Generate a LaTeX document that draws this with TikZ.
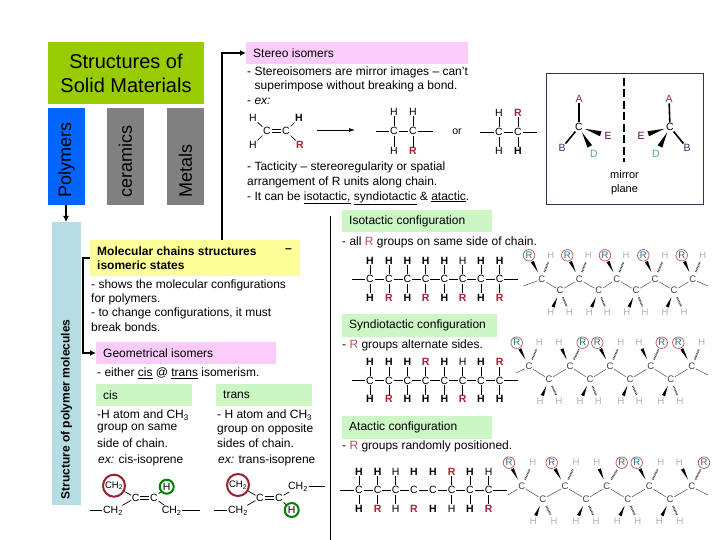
\documentclass[tikz,border=0pt]{standalone}
\usepackage{fontspec}
\setmainfont{Liberation Sans}
\usetikzlibrary{arrows.meta, calc}
\definecolor{titlegreen}{HTML}{99CC00}
\definecolor{polyblue}{HTML}{0066FF}
\definecolor{sidecyan}{HTML}{B7DDE4}
\definecolor{softyellow}{HTML}{FFFF99}
\definecolor{softpink}{HTML}{FBCBFB}
\definecolor{softgreen}{HTML}{CCF7C4}
\definecolor{redatom}{HTML}{AA2233}
\definecolor{tealatom}{HTML}{1F6E8C}
\definecolor{framenavy}{HTML}{33335A}
\tikzset{
  txt/.style={anchor=west, inner sep=0pt, font=\fontsize{12}{14}\selectfont},
  boldtxt/.style={txt, font=\fontsize{12}{14}\selectfont\bfseries},
  upright/.style={rotate=90, anchor=west, inner sep=0pt, font=\fontsize{18}{20}\selectfont},
  arr/.style={-{Latex[length=6pt,width=6pt]}, line width=1.5pt},
  atom/.style={inner sep=0.6pt, font=\fontsize{10.5}{11}\selectfont},
  bh/.style={atom, font=\fontsize{10.5}{11}\selectfont\bfseries},
  rr/.style={atom, text=redatom, font=\fontsize{10.5}{11}\selectfont\bfseries},
  lh/.style={inner sep=0.6pt, text=gray!60, font=\fontsize{9.5}{11}\selectfont, node contents=H},
  rh/.style={circle, draw=redatom!80, line width=0.7pt, inner sep=0.6pt, minimum size=11.5pt, text=tealatom, font=\fontsize{9.5}{11}\selectfont, node contents=R},
  zc/.style={inner sep=0.6pt, text=black!75, font=\fontsize{9.5}{11}\selectfont},
  bond/.style={line width=0.7pt},
  nobond/.style={draw=none},
  zbond/.style={line width=0.5pt, black!70},
  ring/.style={circle, draw=#1, line width=2pt, inner sep=0pt},
}
% solid wedge, narrow at the first node
\newcommand{\wedgebond}[3][1.7pt]{
  \fill ($(#2)!0.3!(#3)$) -- ($($(#2)!0.74!(#3)$)!#1!90:(#3)$) -- ($($(#2)!0.74!(#3)$)!#1!-90:(#3)$) -- cycle;
}
\newcommand{\hashbond}[2]{
  \draw[line width=1.8pt, dash pattern=on 0.8pt off 0.7pt, black!70] ($(#1)!0.3!(#2)$) -- ($(#1)!0.72!(#2)$);
}
\newcommand{\doublebond}[2]{
  \draw[bond] ([yshift=1.2pt]#1.east) -- ([yshift=1.2pt]#2.west);
  \draw[bond] ([yshift=-1.2pt]#1.east) -- ([yshift=-1.2pt]#2.west);
}
% flat chain: prefix, y of the C row, list of atoms
\newcommand{\flatchain}[3]{
  \foreach \i/\x/\ts/\tl/\bs/\bl/\bb in {#3}{
    \node[atom] (#1c\i) at (\x,#2) {C};
    \node[\ts] (#1t\i) at (\x,#2-18.5) {\tl};
    \node[\bs] (#1b\i) at (\x,#2+18.5) {\bl};
    \draw[\bb] (#1c\i) -- (#1t\i);
    \draw[\bb] (#1c\i) -- (#1b\i);
  }
  \foreach \i [count=\j from 2] in {1,...,7}{
    \draw[bond] (#1c\i) -- (#1c\j);
  }
}
% zigzag chain: upper carbons with two atoms above, lower carbons with two H below
\newcommand{\upperC}[8]{
  % prefix, index, x, y, x left, style left, x right, style right
  \node[zc] (#1u#2) at (#3,#4) {C};
  \node (#1ul#2) at (#5,#4-24) [#6];
  \node (#1ur#2) at (#7,#4-24) [#8];
  \wedgebond{#1u#2}{#1ul#2}
  \hashbond{#1u#2}{#1ur#2}
}
\newcommand{\lowerC}[6]{
  % prefix, index, x, y, x left, x right
  \node[zc] (#1d#2) at (#3,#4) {C};
  \node (#1dl#2) at (#5,#4+22) [lh];
  \node (#1dr#2) at (#6,#4+22) [lh];
  \wedgebond{#1d#2}{#1dl#2}
  \hashbond{#1d#2}{#1dr#2}
}
\newcommand{\zigbonds}[1]{
  \foreach \i [count=\j from 2] in {1,...,4}{
    \draw[zbond] (#1u\i) -- (#1d\i);
    \draw[zbond] (#1d\i) -- (#1u\j);
  }
}
\begin{document}
\begin{tikzpicture}[x=1pt, y=-1pt, font=\fontsize{12}{14}\selectfont]
  \useasboundingbox (0,0) rectangle (720,540);
  % left column
  \fill[titlegreen] (48,42) rectangle (204,104);
  \node[font=\fontsize{20}{24}\selectfont, align=center, inner sep=0pt] (title) at (126,73) {Structures of\\Solid Materials};
  \fill[polyblue] (48,108) rectangle (85,205);
  \fill[gray] (107,108) rectangle (144,205);
  \fill[gray] (167,108) rectangle (204,205);
  \node[upright] (polymers) at (66.5,198) {Polymers};
  \node[upright] (ceramics) at (125.5,198) {ceramics};
  \node[upright] (metals) at (185.5,198) {Metals};
  \fill[sidecyan] (52,222) rectangle (81,505);
  \node[rotate=90, inner sep=0pt, font=\fontsize{12}{14}\selectfont\bfseries] (side) at (66.5,409.5) {Structure of polymer molecules};
  \coordinate (polyend) at (66,205);
  \coordinate (sidetop) at (66,222);
  \draw[arr] (polyend) -- (sidetop);
  % headers
  \fill[softyellow] (90,240) rectangle (300,276);
  \fill[softpink] (246,42) rectangle (468,64);
  \fill[softpink] (96,342) rectangle (276,364);
  \fill[softgreen] (342,210) rectangle (492,232);
  \fill[softgreen] (342,314) rectangle (497,337);
  \fill[softgreen] (342,416) rectangle (492,439);
  \fill[softgreen] (96,384) rectangle (192,406);
  \fill[softgreen] (216,384) rectangle (312,406);
  \node[txt] (stereo) at (253,53) {Stereo isomers};
  \node[txt] (geom) at (103,353) {Geometrical isomers};
  \node[txt] (iso) at (349,221) {Isotactic configuration};
  \node[txt] (syn) at (349,325.5) {Syndiotactic configuration};
  \node[txt] (ata) at (349,427.5) {Atactic configuration};
  \node[txt] (cis) at (103,395) {cis};
  \node[txt] (trans) at (223,395) {trans};
  \coordinate (molroot) at (222,240);
  \coordinate (rootcorner) at (222,53);
  \coordinate (stereoleft) at (246,53);
  \draw[arr] (molroot) -- (rootcorner) -- (stereoleft);
  \coordinate (molleft) at (90,258);
  \coordinate (molcorner) at (83,258);
  \coordinate (geomcorner) at (83,353);
  \coordinate (geomleft) at (96,353);
  \draw[arr] (molleft) -- (molcorner) -- (geomcorner) -- (geomleft);
  \coordinate (ruletop) at (330,216);
  \coordinate (rulebot) at (330,540);
  \draw[line width=0.9pt] (ruletop) -- (rulebot);
  % texts
  \node[boldtxt] (mol1) at (97,251) {Molecular chains structures};
  \node[boldtxt] (mol2) at (97,265.5) {isomeric states};
  \node[boldtxt] (moldash) at (285,251) {–};
  \node[txt] (mt1) at (91,285) {- shows the molecular configurations};
  \node[txt] (mt2) at (91,299.5) {for polymers.};
  \node[txt] (mt3) at (91,313) {- to change configurations, it must};
  \node[txt] (mt4) at (91,327.5) {break bonds.};
  \node[txt] (either) at (97,373) {- either \underline{cis} @ \underline{trans} isomerism.};
  \node[txt] (ct1) at (97,415.5) {-H atom and CH\textsubscript{3}};
  \node[txt] (ct2) at (97,429) {group on same};
  \node[txt] (ct3) at (97,443) {side of chain.};
  \node[txt] (ct4) at (98,460) {\textit{ex:} cis-isoprene};
  \node[txt] (tt1) at (217,415.5) {- H atom and CH\textsubscript{3}};
  \node[txt] (tt2) at (217,429) {group on opposite};
  \node[txt] (tt3) at (217,443) {sides of chain.};
  \node[txt] (tt4) at (218,460) {\textit{ex:} trans-isoprene};
  \node[txt] (st1) at (247,72) {- Stereoisomers are mirror images – can't};
  \node[txt] (st2) at (254.5,86) {superimpose without breaking a bond.};
  \node[txt] (st3) at (247,101) {- \textit{ex:}};
  \node[txt] (ta1) at (247,167) {- Tacticity – stereoregularity or spatial};
  \node[txt] (ta2) at (247,182) {arrangement of R units along chain.};
  \node[txt] (ta3) at (247,198) {- It can be \underline{isotactic,} \underline{syndiotactic} \& \underline{atactic}.};
  \node[txt] (al1) at (342,242) {- all {\color{redatom!80}R} groups on same side of chain.};
  \node[txt] (al2) at (342,345) {- {\color{redatom!80}R} groups alternate sides.};
  \node[txt] (al3) at (342,446) {- {\color{redatom!80}R} groups randomly positioned.};
  % stereo formulas
  \node[atom] (ha) at (253,118) {H};
  \node[atom] (hb) at (253,145) {H};
  \node[atom] (ca) at (267,131) {C};
  \node[atom] (cb) at (286,131) {C};
  \node[bh] (hc) at (299,118) {H};
  \node[rr] (rc1) at (300,145) {R};
  \draw[bond] (ha) -- (ca);
  \draw[bond] (hb) -- (ca);
  \doublebond{ca}{cb}
  \draw[bond] (cb) -- (hc);
  \draw[bond] (cb) -- (rc1);
  \coordinate (arra) at (317,130);
  \coordinate (arrb) at (355,130);
  \draw[-{Latex[length=6pt,width=4pt]}, line width=0.7pt] (arra) -- (arrb);
  \node[atom] (cc) at (394,131) {C};
  \node[atom] (cd) at (413,131) {C};
  \node[atom] (hd) at (394,112) {H};
  \node[atom] (he) at (413,112) {H};
  \node[atom] (hf) at (394,151) {H};
  \node[rr] (rc2) at (413,151) {R};
  \coordinate (cl) at (376,131);
  \coordinate (cr) at (433,131);
  \draw[bond] (cl) -- (cc) -- (cd) -- (cr);
  \draw[bond] (cc) -- (hd);
  \draw[bond] (cc) -- (hf);
  \draw[bond] (cd) -- (he);
  \draw[bond] (cd) -- (rc2);
  \node[atom] (orword) at (457,132) {or};
  \node[atom] (ce) at (499,132) {C};
  \node[atom] (cf) at (518,132) {C};
  \node[atom] (hg) at (499,113) {H};
  \node[rr] (rc3) at (518,113) {R};
  \node[atom] (hh) at (499,151) {H};
  \node[bh] (hi) at (518,151) {H};
  \coordinate (dl) at (480,132);
  \coordinate (dr) at (537,132);
  \draw[bond] (dl) -- (ce) -- (cf) -- (dr);
  \draw[bond] (ce) -- (hg);
  \draw[bond] (ce) -- (hh);
  \draw[bond] (cf) -- (rc3);
  \draw[bond] (cf) -- (hi);
  % mirror frame
  \draw[framenavy, line width=0.7pt] (546,73) rectangle (703,204);
  \coordinate (mtop) at (624,78);
  \coordinate (mbot) at (624,162);
  \draw[line width=2.5pt, dash pattern=on 8pt off 3.5pt] (mtop) -- (mbot);
  \node[atom, align=center, font=\fontsize{11}{14}\selectfont] (mirror) at (624.5,183) {mirror\\plane};
  \node[atom] (lc) at (579,127) {C};
  \node[atom, text=redatom] (la) at (579,99) {A};
  \node[atom, text=violet!70!black] (le) at (608,136) {E};
  \node[atom, text=teal!70] (ld) at (594,154) {D};
  \node[atom, text=framenavy] (lb) at (562,148) {B};
  \node[atom] (rc) at (670,127) {C};
  \node[atom, text=redatom] (ra) at (669,99) {A};
  \node[atom, text=violet!70!black] (re) at (641,136) {E};
  \node[atom, text=teal!70] (rd) at (656,154) {D};
  \node[atom, text=framenavy] (rb) at (687,148) {B};
  \foreach \c/\a/\b/\e/\d in {lc/la/lb/le/ld, rc/ra/rb/re/rd}{
    \draw[line width=1.6pt] (\c) -- (\a);
    \draw[line width=1.6pt] (\c) -- (\b);
    \fill ($(\c)!0.2!(\e)$) -- ($($(\c)!0.75!(\e)$)!2.6pt!90:(\e)$) -- ($($(\c)!0.75!(\e)$)!2.6pt!-90:(\e)$) -- cycle;
    \fill ($(\c)!0.2!(\d)$) -- ($($(\c)!0.72!(\d)$)!2.6pt!90:(\d)$) -- ($($(\c)!0.72!(\d)$)!2.6pt!-90:(\d)$) -- cycle;
  }
  % flat chains
  \flatchain{a}{279}{1/370/bh/H/bh/H/bond, 2/389/bh/H/rr/R/bond, 3/407.5/bh/H/bh/H/bond, 4/425.7/bh/H/rr/R/bond, 5/444.5/bh/H/bh/H/bond, 6/462.7/atom/H/rr/R/bond, 7/481/bh/H/bh/H/bond, 8/499.7/bh/H/rr/R/bond}
  \coordinate (aL) at (352,279);
  \coordinate (aR) at (518,279);
  \draw[bond] (aL) -- (ac1);
  \draw[bond] (ac8) -- (aR);
  \flatchain{b}{380.7}{1/370/bh/H/bh/H/bond, 2/389/bh/H/rr/R/bond, 3/407.5/bh/H/bh/H/bond, 4/425.7/rr/R/bh/H/bond, 5/444.5/bh/H/bh/H/bond, 6/462.7/atom/H/rr/R/bond, 7/481/bh/H/bh/H/bond, 8/499.7/rr/R/bh/H/bond}
  \coordinate (bL) at (352,380.7);
  \coordinate (bR) at (518,380.7);
  \draw[bond] (bL) -- (bc1);
  \draw[bond] (bc8) -- (bR);
  \flatchain{c}{490}{1/359/bh/H/bh/H/bond, 2/377.7/bh/H/rr/R/bond, 3/395.7/atom/H/atom/H/bond, 4/414/bh/H/rr/R/nobond, 5/433/bh/H/bh/H/nobond, 6/451.7/rr/R/atom/H/bond, 7/470/bh/H/bh/H/bond, 8/488.7/atom/H/rr/R/bond}
  \coordinate (cL) at (340,490);
  \coordinate (cR) at (507,490);
  \draw[bond] (cL) -- (cc1);
  \draw[bond] (cc8) -- (cR);
  % zigzag chains
  \upperC{p}{1}{541.7}{279.3}{529}{rh}{550.7}{lh}
  \upperC{p}{2}{579.3}{279.3}{567.3}{rh}{588.3}{lh}
  \upperC{p}{3}{616.7}{279.3}{605}{rh}{626}{lh}
  \upperC{p}{4}{655}{279.3}{643.3}{rh}{665}{lh}
  \upperC{p}{5}{692.7}{279.3}{681.7}{rh}{702.7}{lh}
  \lowerC{p}{1}{560}{290.7}{550.7}{569.3}
  \lowerC{p}{2}{598.7}{290.7}{589.3}{607.3}
  \lowerC{p}{3}{636}{290.7}{626.7}{645}
  \lowerC{p}{4}{674}{290.7}{665}{684}
  \zigbonds{p}
  \upperC{q}{1}{529}{366.7}{516.7}{rh}{539.3}{lh}
  \upperC{q}{2}{570}{366.7}{559}{lh}{582.7}{rh}
  \upperC{q}{3}{610}{366.7}{597.3}{rh}{620.7}{lh}
  \upperC{q}{4}{650.7}{366.7}{639}{lh}{661.7}{rh}
  \upperC{q}{5}{691.7}{366.7}{678.3}{rh}{701.7}{lh}
  \lowerC{q}{1}{549}{379.3}{540}{559}
  \lowerC{q}{2}{590}{379.3}{580}{598.3}
  \lowerC{q}{3}{630}{379.3}{621}{639.3}
  \lowerC{q}{4}{670.7}{379.3}{661}{680}
  \zigbonds{q}
  \upperC{s}{1}{521.7}{486.7}{509}{rh}{532.7}{lh}
  \upperC{s}{2}{565}{486.7}{551.7}{rh}{576}{lh}
  \upperC{s}{3}{606.7}{486.7}{596.7}{lh}{621.7}{rh}
  \upperC{s}{4}{649.3}{486.7}{636.7}{rh}{660.7}{lh}
  \upperC{s}{5}{691.7}{486.7}{679.3}{lh}{704}{rh}
  \lowerC{s}{1}{542.7}{499.3}{533.3}{554}
  \lowerC{s}{2}{586}{499.3}{576}{596}
  \lowerC{s}{3}{627.7}{499.3}{617.3}{637.7}
  \lowerC{s}{4}{670}{499.3}{659.3}{680}
  \zigbonds{s}
  \coordinate (pL) at (523,286);
  \coordinate (pR) at (708,286);
  \draw[zbond] (pL) -- (pu1);
  \draw[zbond] (pu5) -- (pR);
  \coordinate (qL) at (516,373);
  \coordinate (qR) at (708,375);
  \draw[zbond] (qL) -- (qu1);
  \draw[zbond] (qu5) -- (qR);
  \coordinate (sL) at (507.7,495);
  \coordinate (sR) at (708,495);
  \draw[zbond] (sL) -- (su1);
  \draw[zbond] (su5) -- (sR);
  % isoprene, cis and trans
  \node[atom, ring=redatom!90!black, minimum size=22pt, font=\fontsize{9.5}{11}\selectfont] (cisa) at (114,485.7) {CH\textsubscript{2}};
  \node[atom] (cisb) at (135.7,497.7) {C};
  \node[atom] (cisc) at (154,497.7) {C};
  \node[atom, ring=green!50!black, minimum size=14pt] (cisd) at (166.7,486.7) {H};
  \node[atom] (cise) at (113,510.7) {CH\textsubscript{2}};
  \node[atom] (cisf) at (171.7,510.7) {CH\textsubscript{2}};
  \coordinate (cisl) at (90,510.7);
  \coordinate (cisr) at (200,510.7);
  \draw[bond] (cisa) -- (cisb);
  \doublebond{cisb}{cisc}
  \draw[bond] (cisc) -- (cisd);
  \draw[bond] (cise) -- (cisb);
  \draw[bond] (cisc) -- (cisf);
  \draw[bond] (cisl) -- (cise);
  \draw[bond] (cisf) -- (cisr);
  \node[atom, ring=redatom!90!black, minimum size=22pt, font=\fontsize{9.5}{11}\selectfont] (trana) at (238,485) {CH\textsubscript{2}};
  \node[atom] (tranb) at (260,498) {C};
  \node[atom] (tranc) at (279,498) {C};
  \node[atom] (trand) at (298,486.7) {CH\textsubscript{2}};
  \node[atom] (trane) at (238,510.7) {CH\textsubscript{2}};
  \node[atom, ring=green!50!black, minimum size=14pt] (tranf) at (291.7,510) {H};
  \coordinate (tranl) at (214,510.7);
  \coordinate (tranr) at (325,486.7);
  \draw[bond] (trana) -- (tranb);
  \doublebond{tranb}{tranc}
  \draw[bond] (tranc) -- (trand);
  \draw[bond] (trane) -- (tranb);
  \draw[bond] (tranc) -- (tranf);
  \draw[bond] (tranl) -- (trane);
  \draw[bond] (trand) -- (tranr);
\end{tikzpicture}
\end{document}
